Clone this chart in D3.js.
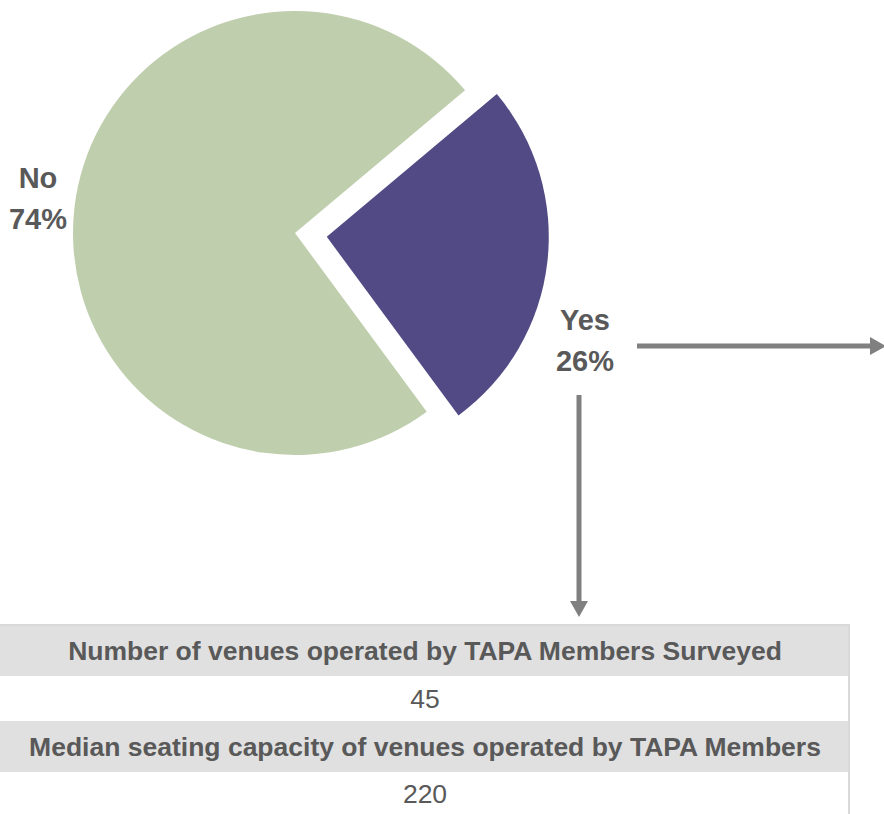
<!DOCTYPE html>
<html>
<head>
<meta charset="utf-8">
<script src="https://cdn.jsdelivr.net/npm/d3@7"></script>
<style>
  body { margin: 0; background: #fff; }
  svg { display: block; font-family: "Liberation Sans", Arial, sans-serif; }
</style>
</head>
<body>
<svg id="chart" width="884" height="814"></svg>
<script>
// data
const categories = ['Yes', 'No'];
const shares = [26, 74];
const sliceColors = ['#524A85', '#BFCEAD'];
const tableLabels = [
  'Number of venues operated by TAPA Members Surveyed',
  'Median seating capacity of venues operated by TAPA Members',
];
const tableValues = ['45', '220'];

const svg = d3.select('#chart');
const textColor = '#595959';
const arrowColor = '#808080';

const cx = 295;
const cy = 233;
const radius = 222;
const explode = 32;

const pie = d3.pie()
  .sort(null)
  .startAngle(50 * Math.PI / 180)
  .endAngle(50 * Math.PI / 180 + 2 * Math.PI);
const arc = d3.arc().innerRadius(0).outerRadius(radius);

const arcs = pie(shares);

svg.append('g')
  .attr('transform', `translate(${cx},${cy})`)
  .selectAll('path')
  .data(arcs)
  .enter()
  .append('path')
  .attr('d', arc)
  .attr('fill', (d, i) => sliceColors[i])
  .attr('transform', (d, i) => {
    if (categories[i] !== 'Yes') return null;
    const mid = (d.startAngle + d.endAngle) / 2;
    return `translate(${Math.sin(mid) * explode},${-Math.cos(mid) * explode})`;
  });

// slice labels
const labelPos = { Yes: [585, 330], No: [38, 188] };
categories.forEach((c, i) => {
  const t = svg.append('text')
    .attr('x', labelPos[c][0])
    .attr('y', labelPos[c][1])
    .attr('text-anchor', 'middle')
    .attr('font-size', 29)
    .attr('font-weight', 'bold')
    .attr('fill', textColor);
  t.append('tspan').text(c);
  t.append('tspan')
    .attr('x', labelPos[c][0])
    .attr('dy', 41)
    .text(`${shares[i]}%`);
});

// arrows
function arrow(x1, y1, x2, y2) {
  const ang = Math.atan2(y2 - y1, x2 - x1);
  const len = 16;
  const half = 9;
  const bx = x2 - Math.cos(ang) * len;
  const by = y2 - Math.sin(ang) * len;
  svg.append('line')
    .attr('x1', x1).attr('y1', y1)
    .attr('x2', bx).attr('y2', by)
    .attr('stroke', arrowColor)
    .attr('stroke-width', 5);
  svg.append('path')
    .attr('d', d3.line()([
      [x2, y2],
      [bx - Math.sin(ang) * half, by + Math.cos(ang) * half],
      [bx + Math.sin(ang) * half, by - Math.cos(ang) * half],
    ]) + 'Z')
    .attr('fill', arrowColor);
}
arrow(637, 346, 886, 346);
arrow(579, 395, 579, 617);

// table
const tableX = 0;
const tableW = 849;
const rowTops = [625, 676, 721, 772];
const rowBottoms = [676, 721, 772, 816];
const rows = [];
tableLabels.forEach((l, i) => {
  rows.push({ text: l, head: true });
  rows.push({ text: tableValues[i], head: false });
});

const tg = svg.append('g');
tg.selectAll('rect')
  .data(rows)
  .enter()
  .append('rect')
  .attr('x', tableX)
  .attr('y', (d, i) => rowTops[i])
  .attr('width', tableW)
  .attr('height', (d, i) => rowBottoms[i] - rowTops[i])
  .attr('fill', d => (d.head ? '#E0E0E0' : '#FFFFFF'));

tg.append('rect')
  .attr('x', tableX - 2)
  .attr('y', 625)
  .attr('width', tableW + 2)
  .attr('height', 200)
  .attr('fill', 'none')
  .attr('stroke', '#D9D9D9')
  .attr('stroke-width', 2);

tg.selectAll('text')
  .data(rows)
  .enter()
  .append('text')
  .attr('x', tableX + 425)
  .attr('y', (d, i) => (rowTops[i] + rowBottoms[i]) / 2 + 9)
  .attr('text-anchor', 'middle')
  .attr('font-size', 26.5)
  .attr('font-weight', d => (d.head ? 'bold' : 'normal'))
  .attr('fill', textColor)
  .text(d => d.text);
</script>
</body>
</html>
